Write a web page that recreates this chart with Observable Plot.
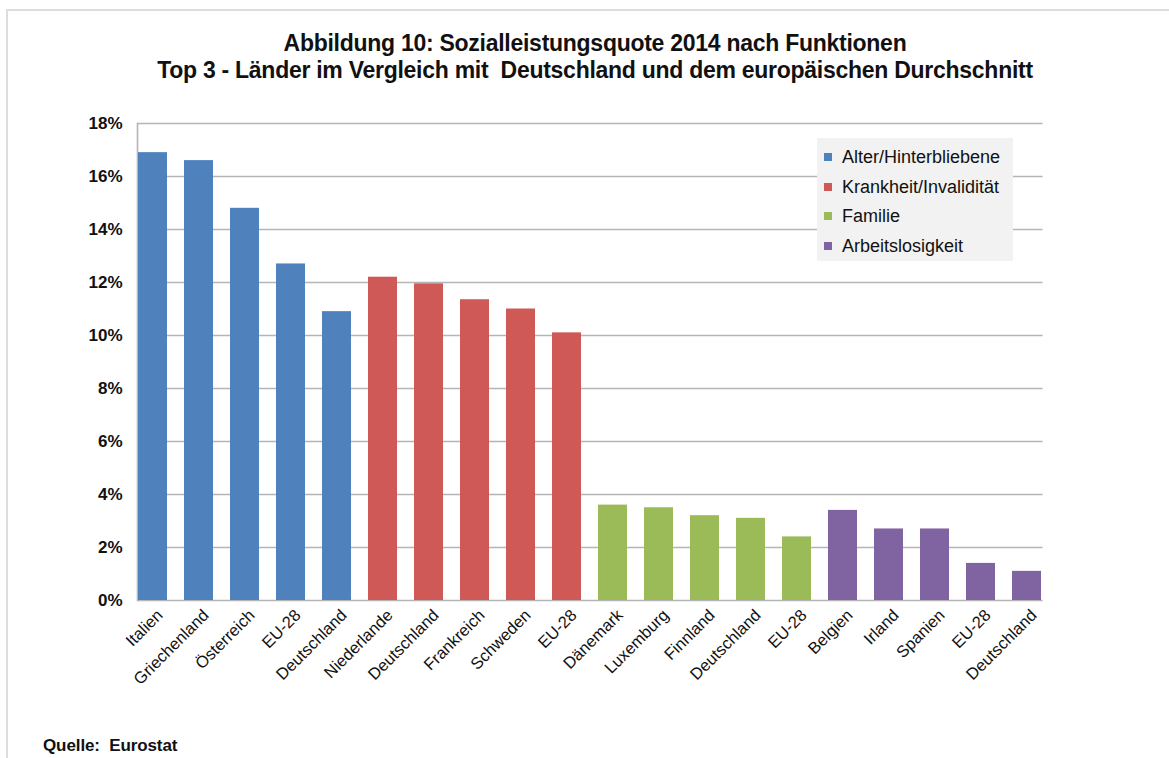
<!DOCTYPE html>
<html>
<head>
<meta charset="utf-8">
<script src="https://cdn.jsdelivr.net/npm/d3@7"></script>
<script src="https://cdn.jsdelivr.net/npm/@observablehq/plot@0.6"></script>
<style>
  html, body { margin: 0; padding: 0; background: #fff; }
  #page { position: relative; width: 1169px; height: 758px; overflow: hidden; font-family: "Liberation Sans", Arial, sans-serif; color: #111; }
  #frameTop { position: absolute; left: 6px; top: 9px; width: 1163px; height: 2px; background: #dddddd; }
  #frameLeft { position: absolute; left: 6px; top: 9px; width: 2px; height: 749px; background: #dddddd; }
  #title { position: absolute; left: 0; width: 1190px; top: 30px; text-align: center; font-weight: bold; font-size: 23px; line-height: 27px; letter-spacing: -0.27px; white-space: pre; }
  #chart { position: absolute; left: 0; top: 0; }
  #legend { position: absolute; left: 817px; top: 138px; width: 196px; height: 123px; background: #f2f2f2; }
  .item { position: absolute; left: 7px; height: 22px; font-size: 18px; letter-spacing: 0px; line-height: 22px; white-space: nowrap; }
  .sw { position: absolute; left: 0; top: 7px; width: 8px; height: 8px; }
  .lab { position: absolute; left: 18px; top: 0; }
  #source { position: absolute; left: 43px; top: 736px; font-weight: bold; font-size: 17px; letter-spacing: -0.1px; white-space: pre; }
</style>
</head>
<body>
<div id="page">
  <div id="frameTop"></div>
  <div id="frameLeft"></div>
  <div id="chart"></div>
  <div id="title">Abbildung 10: Sozialleistungsquote 2014 nach Funktionen
Top 3 - Länder im Vergleich mit  Deutschland und dem europäischen Durchschnitt</div>
  <div id="legend"></div>
  <div id="source">Quelle:  Eurostat</div>
</div>
<script>
const categories = ["Italien","Griechenland","Österreich","EU-28","Deutschland",
  "Niederlande","Deutschland","Frankreich","Schweden","EU-28",
  "Dänemark","Luxemburg","Finnland","Deutschland","EU-28",
  "Belgien","Irland","Spanien","EU-28","Deutschland"];
const functions = ["Alter/Hinterbliebene","Krankheit/Invalidität","Familie","Arbeitslosigkeit"];
const groupOf = [0,0,0,0,0, 1,1,1,1,1, 2,2,2,2,2, 3,3,3,3,3];
const values = [16.9,16.6,14.8,12.7,10.9, 12.2,11.95,11.35,11.0,10.1, 3.6,3.5,3.2,3.1,2.4, 3.4,2.7,2.7,1.4,1.1];
const colors = ["#4f81bd","#cf5957","#9bbb59","#8064a2"];
const yTicks = [0,2,4,6,8,10,12,14,16,18];

const data = categories.map((c, i) => ({idx: i, name: c, value: values[i], fn: functions[groupOf[i]]}));

const font = "Liberation Sans, Arial, sans-serif";
const chart = Plot.plot({
  width: 1169,
  height: 700,
  marginLeft: 137,
  marginRight: 126.5,
  marginTop: 123,
  marginBottom: 100,
  style: {fontFamily: font, color: "#111", background: "transparent"},
  x: {type: "band", domain: d3.range(categories.length), paddingInner: 0.36, paddingOuter: 0, label: null},
  y: {domain: [0, 18], label: null},
  color: {domain: functions, range: colors},
  marks: [
    Plot.ruleY(yTicks, {stroke: "#b5b5b5", strokeWidth: 1.6}),
    Plot.frame({anchor: "left", stroke: "#b5b5b5", strokeWidth: 1.6}),
    Plot.barY(data, {x: "idx", y: "value", fill: "fn"}),
    Plot.axisY({ticks: yTicks, tickFormat: d => d + "%", tickSize: 0, tickPadding: 15, fontSize: 17, fontWeight: "bold", label: null}),
    Plot.axisX({tickSize: 0, tickPadding: 12, tickRotate: -45, tickFormat: i => categories[i], fontSize: 16.5, dx: 7, label: null})
  ]
});
document.getElementById("chart").appendChild(chart);

const legend = document.getElementById("legend");
functions.forEach((f, i) => {
  const row = document.createElement("div");
  row.className = "item";
  row.style.top = (8 + i * 29.7) + "px";
  const sw = document.createElement("div");
  sw.className = "sw";
  sw.style.background = colors[i];
  const lab = document.createElement("div");
  lab.className = "lab";
  lab.textContent = f;
  row.appendChild(sw);
  row.appendChild(lab);
  legend.appendChild(row);
});
</script>
</body>
</html>
